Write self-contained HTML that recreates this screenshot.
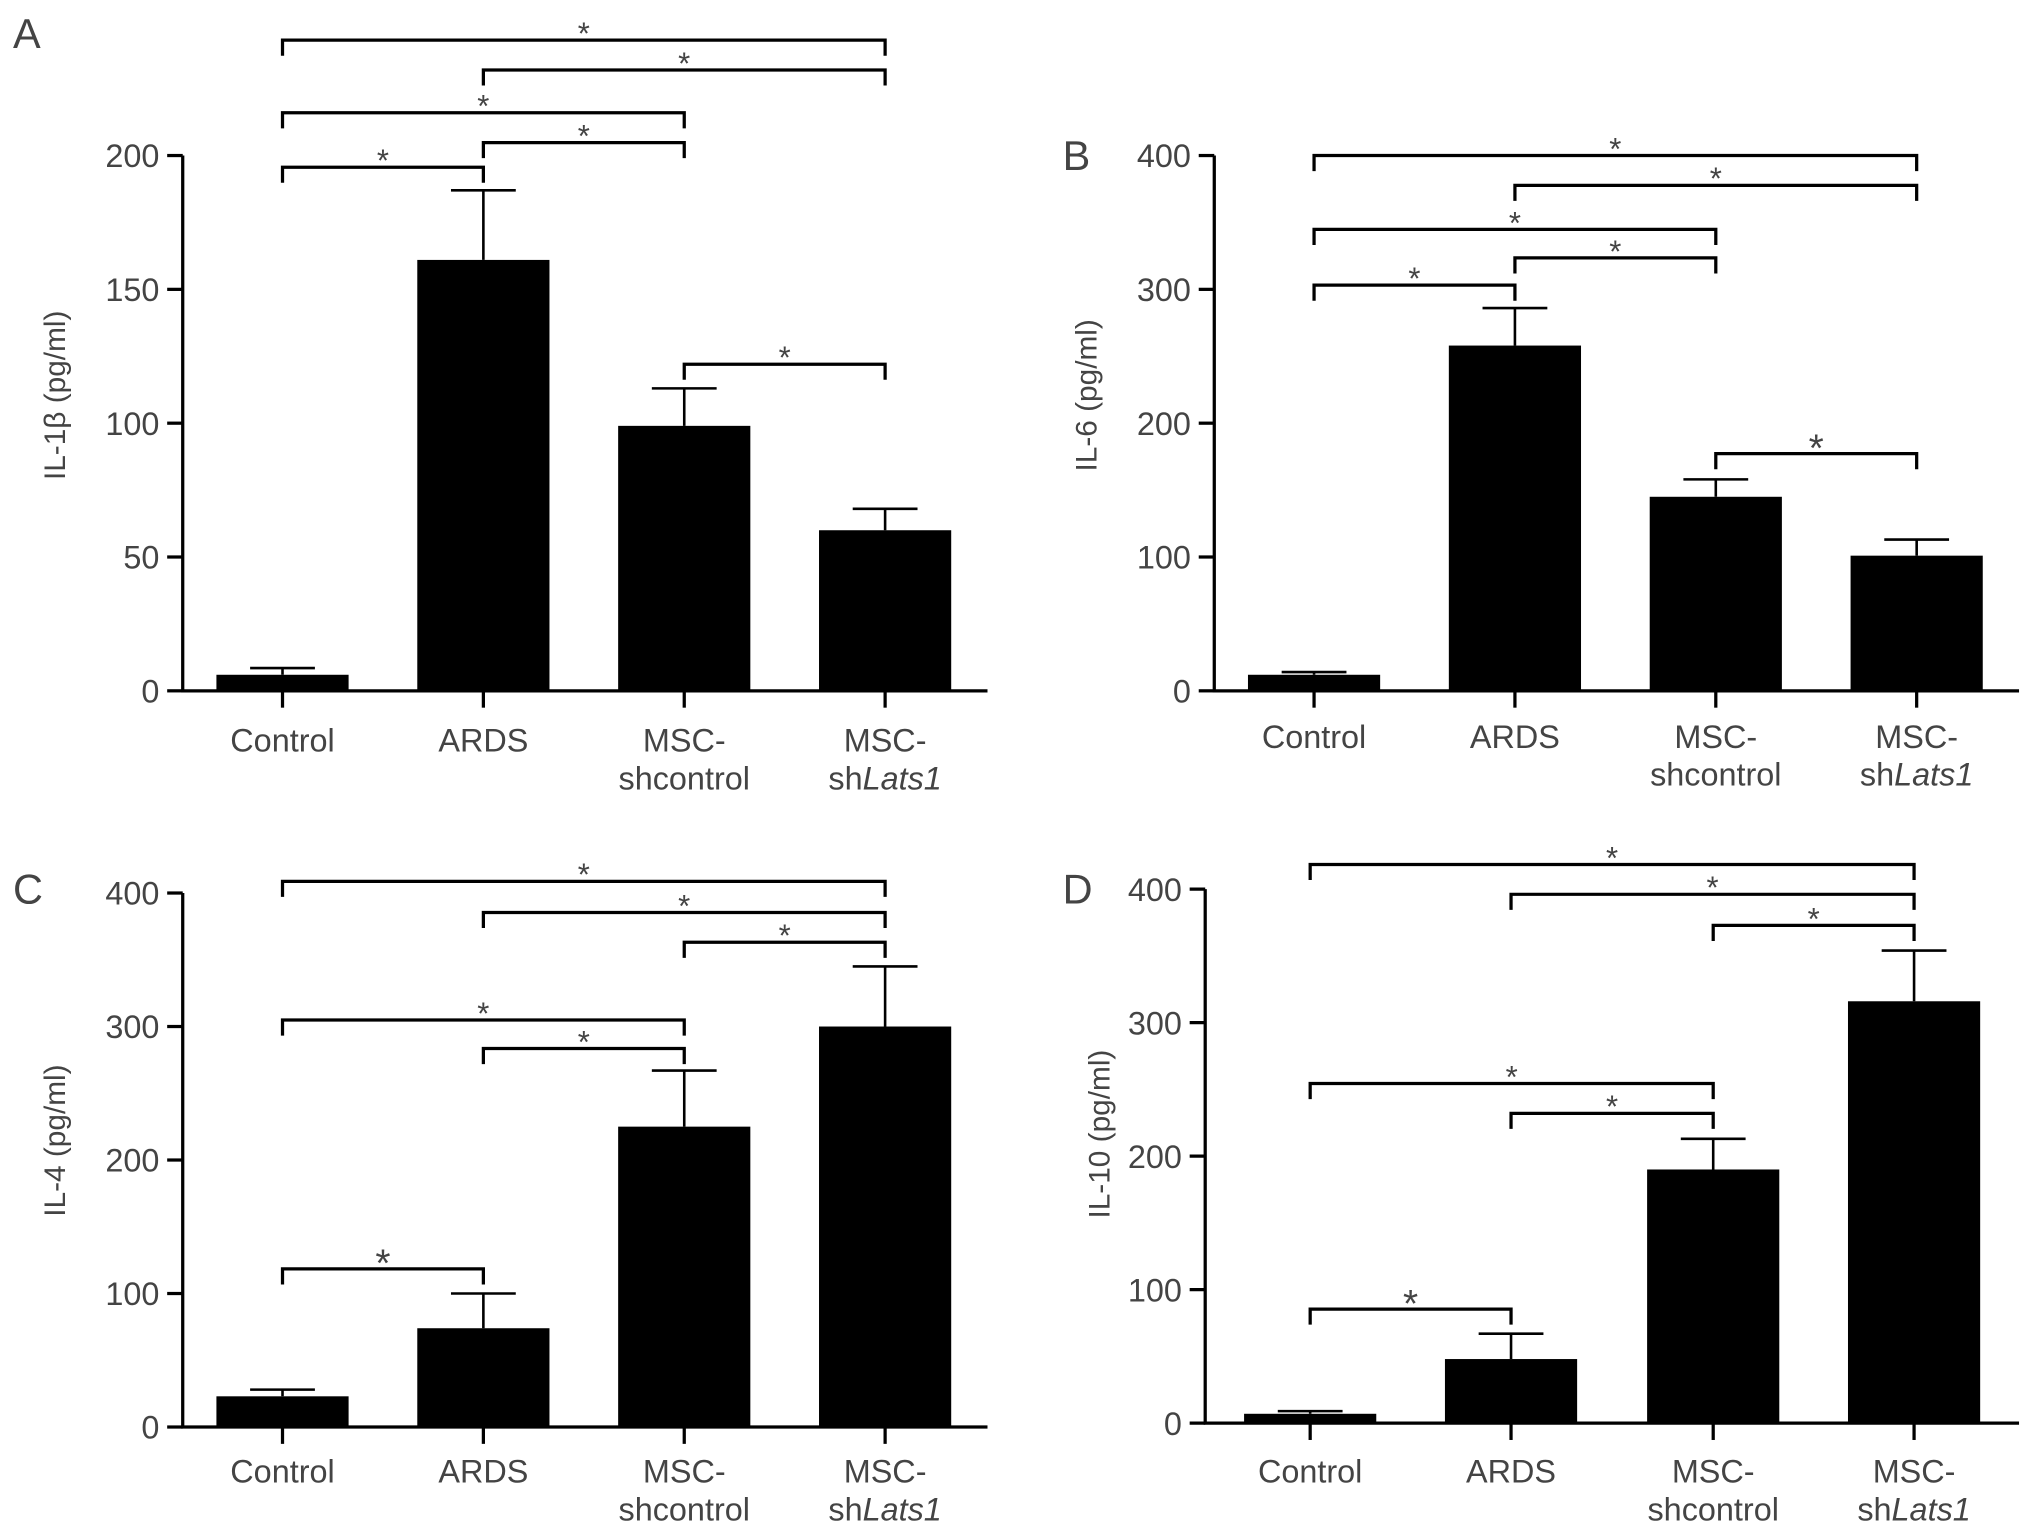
<!DOCTYPE html>
<html><head><meta charset="utf-8"><style>
html,body{margin:0;padding:0;background:#fff}
svg{display:block}
text{font-family:"Liberation Sans",sans-serif;fill:#444}
</style></head><body>
<svg id="fig" width="2032" height="1532" viewBox="0 0 1568 1182" preserveAspectRatio="none" xmlns="http://www.w3.org/2000/svg"></svg>
<script>
const categories = ["Control","ARDS","MSC-shcontrol","MSC-shLats1"];
const valuesA = [6,161,99,60];
const errorsA = [8.5,187,113,68];
const valuesB = [12,258,145,101];
const errorsB = [14,286,158,113];
const valuesC = [23,74,225,300];
const errorsC = [28,100,267,345];
const valuesD = [7,48,190,316];
const errorsD = [9,67,213,354];
const ticksA = [0,50,100,150,200];
const ticks400 = [0,100,200,300,400];
const bracketsA = [[0,3],[1,3],[0,2],[1,2],[0,1],[2,3]];
const bracketsB = [[0,3],[1,3],[0,2],[1,2],[0,1],[2,3]];
const bracketsC = [[0,3],[1,3],[2,3],[0,2],[1,2],[0,1]];
const bracketsD = [[0,3],[1,3],[2,3],[0,2],[1,2],[0,1]];

const NS="http://www.w3.org/2000/svg";
const svg=document.getElementById('fig');
function mk(tag,attrs,parent){const e=document.createElementNS(NS,tag);for(const k in attrs)e.setAttribute(k,attrs[k]);(parent||svg).appendChild(e);return e;}

const panels=[
 {id:'a',letter:'A',lx:10,ly:37,ax:141,y0:533,ytop:120,max:200,xend:762,centers:[218,373,528,683],vals:valuesA,errs:errorsA,ticks:ticksA,title:'IL-1β (pg/ml)',tx:42,ty:305,
  br:bracketsA,brY:[31,54,87,110,129,281],big:[],catY:[580,609]},
 {id:'b',letter:'B',lx:820,ly:131,ax:937,y0:533,ytop:120,max:400,xend:1558,centers:[1014,1169,1324,1479],vals:valuesB,errs:errorsB,ticks:ticks400,title:'IL-6 (pg/ml)',tx:838,ty:305,
  br:bracketsB,brY:[120,143,177,199,220,350],big:[5],catY:[577,606]},
 {id:'c',letter:'C',lx:10,ly:697,ax:141,y0:1101,ytop:689,max:400,xend:762,centers:[218,373,528,683],vals:valuesC,errs:errorsC,ticks:ticks400,title:'IL-4 (pg/ml)',tx:42,ty:880,
  br:bracketsC,brY:[680,704,727,787,809,979],big:[5],catY:[1144,1173]},
 {id:'d',letter:'D',lx:820,ly:697,ax:930,y0:1098,ytop:686,max:400,xend:1558,centers:[1011,1166,1322,1477],vals:valuesD,errs:errorsD,ticks:ticks400,title:'IL-10 (pg/ml)',tx:848,ty:875,
  br:bracketsD,brY:[667,690,714,836,859,1010],big:[5],catY:[1144,1173]}
];

panels.forEach(p=>{
  const g=mk('g',{});
  
  
  const y=v=>p.y0-(v/p.max)*(p.y0-p.ytop);
  const L=mk('text',{x:p.lx,y:p.ly,'font-size':32,fill:'#333'},g);L.textContent=p.letter;
  
  p.vals.forEach((v,i)=>{
    const cx=p.centers[i];
    const eb=mk('path',{d:`M${cx},${y(v)}V${y(p.errs[i])}M${cx-25},${y(p.errs[i])}H${cx+25}`,stroke:'#000','stroke-width':2,fill:'none'},g);
    
    const b=mk('rect',{x:cx-51,y:y(v),width:102,height:p.y0-y(v),fill:'#000'},g);
    
  });
  const ax=mk('path',{d:`M${p.ax},${p.ytop}V${p.y0}H${p.xend}`,stroke:'#000','stroke-width':2.5,fill:'none'},g);
  
  p.ticks.forEach(t=>{
    mk('line',{x1:p.ax-12,x2:p.ax,y1:y(t),y2:y(t),stroke:'#000','stroke-width':2.5},g);
    const tl=mk('text',{x:p.ax-18,y:y(t)+9,'text-anchor':'end','font-size':25},g);tl.textContent=t;
    
  });
  p.centers.forEach((cx,i)=>{
    mk('line',{x1:cx,x2:cx,y1:p.y0,y2:p.y0+13,stroke:'#000','stroke-width':2.5},g);
    const t=mk('text',{x:cx,y:p.catY[0],'text-anchor':'middle','font-size':25},g);
    
    if(i<2){t.textContent=categories[i];}
    else{t.textContent='MSC-';
      const t2=mk('text',{x:cx,y:p.catY[1],'text-anchor':'middle','font-size':25},g);
      
      if(i==2)t2.textContent='shcontrol';else t2.innerHTML='sh<tspan font-style="italic">Lats1</tspan>';}
  });
  const tt=mk('text',{x:p.tx,y:p.ty,'text-anchor':'middle','font-size':23,transform:`rotate(-90 ${p.tx} ${p.ty})`,dy:8},g);
  tt.textContent=p.title;
  p.br.forEach((br,k)=>{
    const x1=p.centers[br[0]],x2=p.centers[br[1]],by=p.brY[k];
    const bp=mk('path',{d:`M${x1},${by+12}V${by}H${x2}V${by+12}`,stroke:'#000','stroke-width':2.5,fill:'none'},g);
    
    const big=p.big.includes(k);
    const s=mk('text',{x:(x1+x2)/2,y:by+(big?6:3),'text-anchor':'middle','font-size':big?30:24,fill:'#222'},g);s.textContent='*';
    
  });
});
</script>
</body></html>
